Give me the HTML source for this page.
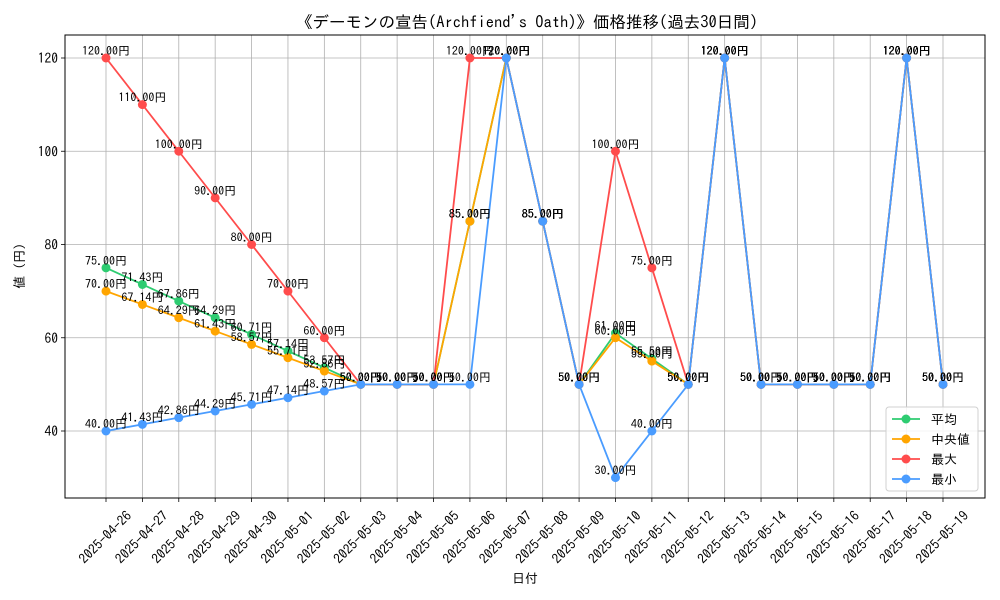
<!DOCTYPE html>
<html><head><meta charset="utf-8"><style>
body{margin:0;background:#fff;}
svg{display:block;font-family:"IPAGothic","Noto Sans CJK JP",sans-serif;}
</style></head><body>
<svg id="chart" width="1000" height="600" xmlns="http://www.w3.org/2000/svg"></svg>
<script>
const categories=["2025-04-26","2025-04-27","2025-04-28","2025-04-29","2025-04-30","2025-05-01","2025-05-02","2025-05-03","2025-05-04","2025-05-05","2025-05-06","2025-05-07","2025-05-08","2025-05-09","2025-05-10","2025-05-11","2025-05-12","2025-05-13","2025-05-14","2025-05-15","2025-05-16","2025-05-17","2025-05-18","2025-05-19"];
const avgValues=[75,71.43,67.86,64.29,60.71,57.14,53.57,50,50,50,85,120,85,50,61,55.5,50,120,50,50,50,50,120,50];
const medianValues=[70,67.14,64.29,61.43,58.57,55.71,52.86,50,50,50,85,120,85,50,60,55,50,120,50,50,50,50,120,50];
const maxValues=[120,110,100,90,80,70,60,50,50,50,120,120,85,50,100,75,50,120,50,50,50,50,120,50];
const minValues=[40,41.43,42.86,44.29,45.71,47.14,48.57,50,50,50,50,120,85,50,30,40,50,120,50,50,50,50,120,50];
const yTicks=[40,60,80,100,120];
const seriesNames=["平均","中央値","最大","最小"];

const svg=document.getElementById('chart');
const NS="http://www.w3.org/2000/svg";
const L=65,R=985,T=35,B=498;
const x=i=>106+i*(943-106)/(categories.length-1);
const y=v=>617.5-v*4.6625;
function mk(tag,attrs,parent){const e=document.createElementNS(NS,tag);for(const k in attrs)e.setAttribute(k,attrs[k]);(parent||svg).appendChild(e);return e;}

const title=mk('text',{x:527,y:28,'text-anchor':'middle','font-size':16.5});
title.textContent="《デーモンの宣告(Archfiend's Oath)》価格推移(過去30日間)";



const grid=mk('g',{});


categories.forEach((c,i)=>{
  mk('line',{x1:x(i),x2:x(i),y1:T,y2:B,stroke:'#b0b0b0','stroke-width':0.8},grid);
  mk('line',{x1:x(i),x2:x(i),y1:B,y2:B+4,stroke:'#000','stroke-width':0.8});
  const t=mk('text',{x:0,y:0,'font-size':13.5,'text-anchor':'middle','dominant-baseline':'central',transform:`translate(${x(i)-1},${537}) rotate(-45)`});
  t.textContent=c;
  
  
});
yTicks.forEach(v=>{
  mk('line',{x1:L,x2:R,y1:y(v),y2:y(v),stroke:'#b0b0b0','stroke-width':0.8},grid);
  mk('line',{x1:L-4,x2:L,y1:y(v),y2:y(v),stroke:'#000','stroke-width':0.8});
  const t=mk('text',{x:L-7,y:y(v)+5,'font-size':13.5,'text-anchor':'end'});
  t.textContent=v;
  
  
});
const frame=mk('rect',{x:L,y:T,width:R-L,height:B-T,fill:'none',stroke:'#000','stroke-width':1});



const xt=mk('text',{x:525,y:583,'font-size':13,'text-anchor':'middle'});xt.textContent="日付";


const yt=mk('text',{x:0,y:0,'font-size':13,'text-anchor':'middle',transform:'translate(24,266) rotate(-90)'});yt.textContent="値 (円)";



const series=[[avgValues,'#2ecc71','avg'],[medianValues,'#ffa500','median'],[maxValues,'#ff4c4c','max'],[minValues,'#4a9cff','min']];
series.forEach(([vals,col,nm])=>{
  const g=mk('g',{});
  
  
  mk('polyline',{points:vals.map((v,i)=>x(i)+','+y(v)).join(' '),fill:'none',stroke:col,'stroke-width':1.8},g);
  vals.forEach((v,i)=>{
    const c=mk('circle',{cx:x(i),cy:y(v),r:4.5,fill:col},g);
    
    
  });
});
series.forEach(([vals,col,nm])=>{
  vals.forEach((v,i)=>{
    const t=mk('text',{x:x(i),y:y(v)-3,'font-size':12,'text-anchor':'middle'});
    t.textContent=v.toFixed(2)+"円";
    
    
  });
});

const lg=mk('g',{});


mk('rect',{x:886,y:407,width:92,height:84,rx:3,fill:'#fff','fill-opacity':0.85,stroke:'#d0d0d0'},lg);
series.forEach(([vals,col,nm],k)=>{
  const yy=419+k*20;
  mk('line',{x1:892,x2:920,y1:yy,y2:yy,stroke:col,'stroke-width':1.8},lg);
  mk('circle',{cx:906,cy:yy,r:4.5,fill:col},lg);
  const t=mk('text',{x:931,y:yy+5,'font-size':13},lg);
  t.textContent=seriesNames[k];
  
  
});
</script>
</body></html>
